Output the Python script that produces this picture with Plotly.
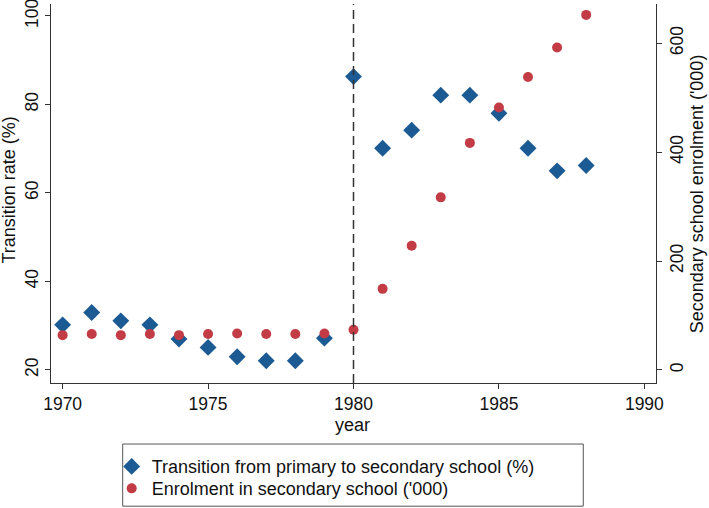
import plotly.graph_objects as go

years = list(range(1970, 1989))
transition_rate = [30.2, 33.0, 31.1, 30.2, 27.0, 25.1, 23.0, 22.1, 22.1, 27.2,
                   86.3, 70.1, 74.2, 82.1, 82.1, 78.0, 70.1, 65.0, 66.2]
enrolment = [64, 66, 64, 66, 64, 66, 67, 66, 66, 67,
             74, 149, 228, 317, 417, 482, 538, 592, 652]

x_ticks = [1970, 1975, 1980, 1985, 1990]
y_ticks = [20, 40, 60, 80, 100]
y2_ticks = [0, 200, 400, 600]
cutoff_year = 1980

blue = "#1b5a93"
red = "#c23b45"
axis_col = "#333333"
FONT = "Liberation Sans, Arial, Helvetica, sans-serif"
TXT = "#111111"

fig = go.Figure()
fig.add_trace(go.Scatter(
    x=years, y=transition_rate, mode="markers", name="Transition from primary to secondary school (%)",
    marker=dict(symbol="diamond", size=13, color=blue, line=dict(width=0)),
    yaxis="y", legend="legend"))
fig.add_trace(go.Scatter(
    x=years, y=enrolment, mode="markers", name="Enrolment in secondary school ('000)",
    marker=dict(symbol="circle", size=10, color=red, line=dict(width=0)),
    yaxis="y2", legend="legend2"))

fig.add_shape(type="line", xref="x", yref="paper", x0=cutoff_year, x1=cutoff_year, y0=0, y1=1,
              line=dict(color=axis_col, width=1.5, dash="9px,5px"))

# legend frame
fig.add_shape(type="rect", xref="paper", yref="paper",
              x0=0.1185, x1=0.8798, y0=-0.161, y1=-0.325,
              line=dict(color="#555555", width=1), fillcolor="rgba(0,0,0,0)")

# axis titles
fig.add_annotation(text="Transition rate (%)", xref="paper", yref="paper", x=-0.0686, y=0.509,
                   textangle=-90, showarrow=False, xanchor="center", yanchor="middle",
                   font=dict(family=FONT, size=18, color=TXT))
fig.add_annotation(text="Secondary school enrolment ('000)", xref="paper", yref="paper",
                   x=1.0673, y=0.5, textangle=-90, showarrow=False, xanchor="center", yanchor="middle",
                   font=dict(family=FONT, size=18, color=TXT))
fig.add_annotation(text="year", xref="paper", yref="paper", x=0.499, y=-0.111,
                   showarrow=False, xanchor="center", yanchor="middle",
                   font=dict(family=FONT, size=18, color=TXT))

axis_common = dict(showgrid=False, zeroline=False, showline=True, linecolor=axis_col, linewidth=1,
                   ticks="outside", ticklen=5, tickcolor=axis_col, automargin=False,
                   tickfont=dict(family=FONT, size=17.5, color=TXT))

legend_common = dict(xanchor="left", yanchor="top", bgcolor="rgba(0,0,0,0)", borderwidth=0,
                     font=dict(family=FONT, size=18, color=TXT), itemsizing="trace")

fig.update_layout(
    width=709, height=508,
    margin=dict(l=51, r=53, t=4, b=125, autoexpand=False),
    paper_bgcolor="white", plot_bgcolor="white",
    font=dict(family=FONT, size=17.5, color=TXT),
    xaxis=dict(range=[1969.6, 1990.4], tickvals=x_ticks, **axis_common),
    yaxis=dict(range=[17.06, 102.7], tickvals=y_ticks, tickangle=-90,
               ticklabeloverflow="allow", **axis_common),
    yaxis2=dict(range=[-23.9, 672], tickvals=y2_ticks, tickangle=-90, overlaying="y", side="right",
                ticklabeloverflow="allow", **axis_common),
    showlegend=True,
    legend=dict(x=0.1003, y=-0.172, **legend_common),
    legend2=dict(x=0.1003, y=-0.230, **legend_common),
)

fig.write_html("out.html", config={"displayModeBar": False},
               post_script="document.body.style.margin='0px';")
